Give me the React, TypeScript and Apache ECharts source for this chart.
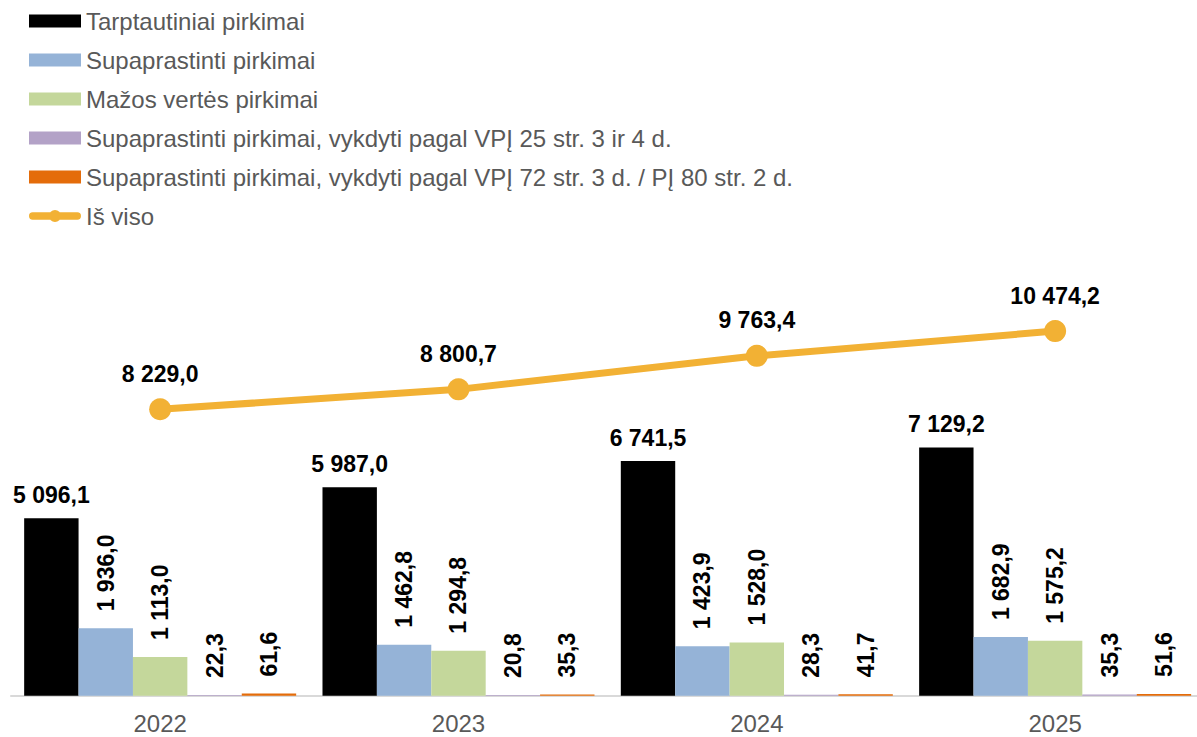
import React, { useEffect, useRef } from "react";
import * as echarts from "echarts";

const categories = ["2022", "2023", "2024", "2025"];
const seriesNames = [
  "Tarptautiniai pirkimai",
  "Supaprastinti pirkimai",
  "Mažos vertės pirkimai",
  "Supaprastinti pirkimai, vykdyti pagal VPĮ 25 str. 3 ir 4 d.",
  "Supaprastinti pirkimai, vykdyti pagal VPĮ 72 str. 3 d. / PĮ 80 str. 2 d.",
  "Iš viso",
];
const tarptautiniai = [5096.1, 5987.0, 6741.5, 7129.2];
const supaprastinti = [1936.0, 1462.8, 1423.9, 1682.9];
const mazosVertes = [1113.0, 1294.8, 1528.0, 1575.2];
const pagal25 = [22.3, 20.8, 28.3, 35.3];
const pagal72 = [61.6, 35.3, 41.7, 51.6];
const isViso = [8229.0, 8800.7, 9763.4, 10474.2];

const barColors = ["#000000", "#95B3D7", "#C4D79B", "#B3A2C7", "#E46C0A"];
const lineColor = "#F2B134";
const FONT = "'Liberation Sans', Arial, sans-serif";
const lineLegendIcon =
  "path://M2 2.5H50A4 4 0 0 1 50 10.5H2A4 4 0 0 1 2 2.5Z M19.5 6.5A6.5 6.5 0 1 1 32.5 6.5A6.5 6.5 0 1 1 19.5 6.5Z";

function fmt(v: number): string {
  const s = v.toFixed(1);
  const [intPart, dec] = s.split(".");
  const withSpaces = intPart.replace(/\B(?=(\d{3})+(?!\d))/g, " ");
  return withSpaces + "," + dec;
}

export default function App() {
  const ref = useRef<HTMLDivElement>(null);
  useEffect(() => {
    if (!ref.current) return;
    const chart = echarts.init(ref.current, undefined, { renderer: "svg" });
    const barData = [tarptautiniai, supaprastinti, mazosVertes, pagal25, pagal72];
    const labelBase = {
      show: true,
      formatter: (p: any) => fmt(p.value),
      fontFamily: FONT,
      fontWeight: "bold",
      fontSize: 23,
      color: "#000000",
    };
    const barSeries = barData.map((d, i) => ({
      name: seriesNames[i],
      type: "bar",
      data: d,
      barWidth: 54.4,
      barGap: "0%",
      itemStyle: { color: barColors[i] },
      label:
        i === 0
          ? { ...labelBase, position: "top", distance: 12 }
          : {
              ...labelBase,
              position: "top",
              rotate: 90,
              align: "left",
              verticalAlign: "middle",
              distance: 17,
            },
    }));
    chart.setOption({
      animation: false,
      legend: {
        orient: "vertical",
        left: 29,
        top: 8,
        padding: 0,
        itemWidth: 52,
        itemHeight: 13,
        itemGap: 13,
        data: seriesNames.map((n, i) =>
          i < 5
            ? { name: n, icon: "rect" }
            : { name: n, icon: lineLegendIcon, itemStyle: { color: lineColor } }
        ),
        textStyle: { fontFamily: FONT, fontSize: 24, color: "#595959", lineHeight: 26 },
        selectedMode: false,
      },
      grid: { left: 11, right: 5.7, top: 278, bottom: 41.3, containLabel: false },
      xAxis: {
        type: "category",
        data: categories,
        axisLine: { show: true, lineStyle: { color: "#D9D9D9", width: 2 } },
        axisTick: { show: false },
        axisLabel: { fontFamily: FONT, fontSize: 24, color: "#595959", margin: 16 },
      },
      yAxis: {
        type: "value",
        min: 0,
        max: 12000,
        show: false,
        splitLine: { show: false },
      },
      series: [
        ...barSeries,
        {
          name: seriesNames[5],
          type: "line",
          data: isViso,
          z: 5,
          symbol: "circle",
          symbolSize: 22,
          lineStyle: { color: lineColor, width: 7 },
          itemStyle: { color: lineColor },
          label: { ...labelBase, position: "top", distance: 13 },
        },
      ],
    });
    return () => chart.dispose();
  }, []);
  return (
    <div style={{ position: "absolute", left: 0, top: 0, width: 1197, height: 737, overflow: "hidden", background: "#fff" }}>
      <div ref={ref} style={{ width: 1210, height: 737 }} />
    </div>
  );
}
